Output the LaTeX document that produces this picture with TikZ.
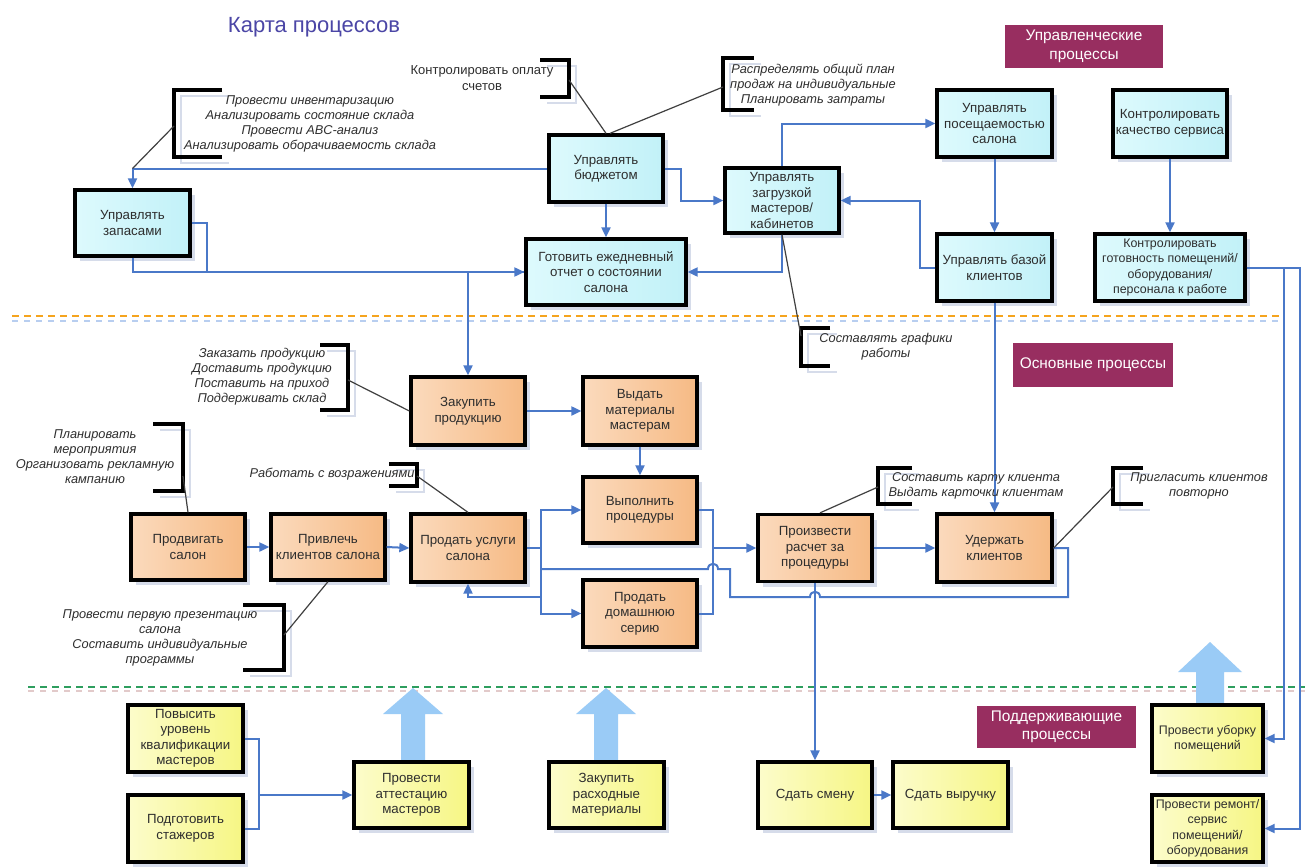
\documentclass[tikz,border=0pt]{standalone}
\usepackage{fontspec}
\setmainfont{Liberation Sans}
\usetikzlibrary{arrows.meta,shadows,calc}
\definecolor{lineblue}{HTML}{4A78C8}
\definecolor{cyanL}{HTML}{DDFAFD}
\definecolor{cyanD}{HTML}{C2F1F8}
\definecolor{orL}{HTML}{FBDABD}
\definecolor{orD}{HTML}{F6BA84}
\definecolor{yeL}{HTML}{FCFCCB}
\definecolor{yeD}{HTML}{F6F684}
\definecolor{shadowc}{HTML}{D6DCEA}
\definecolor{textc}{HTML}{2E2E2E}
\definecolor{tagc}{HTML}{982E60}
\definecolor{arrowc}{HTML}{9ACBF6}
\definecolor{titlec}{HTML}{4B46A6}
\definecolor{leadc}{HTML}{404040}
\definecolor{dashorange}{HTML}{F5A41E}
\definecolor{dashblue}{HTML}{B8CEF0}
\definecolor{dashgreen}{HTML}{2E9E5E}
\definecolor{dashpink}{HTML}{E2CACA}
\newcommand\boxfont{\fontsize{13.3}{15.5}\selectfont}
\newcommand\smallboxfont{\fontsize{12.4}{15.5}\selectfont}
\newcommand\annfont{\fontsize{12.8}{15}\selectfont\itshape}
\newcommand\tagfont{\fontsize{15.4}{18.5}\selectfont}
\begin{document}
\begin{tikzpicture}[x=1pt,y=-1pt,
  conn/.style={draw=lineblue, line width=2pt, -{Triangle[length=10pt,width=9pt]}},
  wire/.style={draw=lineblue, line width=2pt},
  pbox/.style={draw=black, line width=3.3pt, inner sep=1pt, align=center, font=\boxfont, text=textc,
    minimum width=114pt, minimum height=66pt,
    drop shadow={shadow xshift=5pt, shadow yshift=-5pt, fill=shadowc, opacity=1}},
  cbox/.style={pbox, left color=cyanL, right color=cyanD},
  obox/.style={pbox, left color=orL, right color=orD},
  ybox/.style={pbox, left color=yeL, right color=yeD},
  ann/.style={font=\annfont, align=center, text=textc, inner sep=0pt},
  brk/.style={line width=3.4pt, black},
  brkshadow/.style={line width=1.6pt, shadowc},
  lead/.style={draw=leadc, line width=1.2pt},
  tag/.style={fill=tagc, text=white, font=\tagfont, align=center, inner sep=0pt},
  bigarrow/.style={fill=arrowc, draw=none}
]
\useasboundingbox (0,0) rectangle (1313,867);
\fill[white] (0,0) rectangle (1313,867);

% title
\node[font=\fontsize{22}{25}\selectfont, text=titlec] (title) at (314,27) {Карта процессов};

% separators
\draw[dash pattern=on 6pt off 6pt, line width=1.5pt, dashblue] (12,321) -- (1283,321);
\draw[dash pattern=on 7pt off 5pt, line width=2.6pt, dashorange] (12,316) -- (1283,316);
\draw[dash pattern=on 6pt off 6pt, line width=1.5pt, dashpink] (28,691) -- (1305,691);
\draw[dash pattern=on 7pt off 5pt, line width=2.6pt, dashgreen] (28,687) -- (1305,687);

% big arrows
\fill[bigarrow] (413,688) -- (443,714) -- (425,714) -- (425,762) -- (401,762) -- (401,714) -- (383,714) -- cycle;
\fill[bigarrow] (606,688) -- (636,714) -- (618,714) -- (618,762) -- (594,762) -- (594,714) -- (576,714) -- cycle;
\fill[bigarrow] (1210,642) -- (1242,672) -- (1224,672) -- (1224,705) -- (1196,705) -- (1196,672) -- (1178,672) -- cycle;

% tags
\node[tag, minimum width=158pt, minimum height=43pt] (tagU) at (1084,46.5) {Управленческие\\процессы};
\node[tag, minimum width=160pt, minimum height=44pt] (tagO) at (1093,365) {Основные процессы};
\node[tag, minimum width=159pt, minimum height=42pt] (tagP) at (1056.5,727) {Поддерживающие\\процессы};

% management boxes
\node[cbox, minimum width=115pt] (zap) at (132.5,223) {Управлять\\запасами};
\node[cbox, minimum height=67pt] (bud) at (606,168.5) {Управлять\\бюджетом};
\node[cbox, minimum width=160pt] (otch) at (606,272) {Готовить ежедневный\\отчет о состоянии\\салона};
\node[cbox, minimum height=65pt] (zag) at (782,200.5) {Управлять\\загрузкой\\мастеров/\\кабинетов};
\node[cbox, minimum width=115pt, minimum height=67pt] (pos) at (994.5,123.5) {Управлять\\посещаемостью\\салона};
\node[cbox, minimum height=67pt] (kach) at (1170,123.5) {Контролировать\\качество сервиса};
\node[cbox, minimum width=115pt, minimum height=67pt] (baz) at (994.5,267.5) {Управлять базой\\клиентов};
\node[cbox, minimum width=150pt, minimum height=67pt, font=\smallboxfont] (got) at (1170,267.5) {Контролировать\\готовность помещений/\\оборудования/\\персонала к работе};

% main boxes
\node[obox, minimum height=68pt] (zak) at (468,411) {Закупить\\продукцию};
\node[obox, minimum height=68pt] (vyd) at (640,411) {Выдать\\материалы\\мастерам};
\node[obox] (vyp) at (640,510) {Выполнить\\процедуры};
\node[obox, minimum height=68pt] (prod) at (468,548) {Продать услуги\\салона};
\node[obox, minimum height=67pt] (dom) at (640,613.5) {Продать\\домашнюю\\серию};
\node[obox, minimum height=67pt] (ras) at (815,548) {Произвести\\расчет за\\процедуры};
\node[obox, minimum width=115pt, minimum height=68pt] (ud) at (994.5,548) {Удержать\\клиентов};
\node[obox] (prodv) at (188,547) {Продвигать\\салон};
\node[obox] (priv) at (328,547) {Привлечь\\клиентов салона};

% support boxes
\node[ybox, minimum width=115pt, minimum height=67pt] (pov) at (185.5,738.5) {Повысить\\уровень\\квалификации\\мастеров};
\node[ybox, minimum width=115pt, minimum height=67pt] (podg) at (185.5,828.5) {Подготовить\\стажеров};
\node[ybox, minimum width=115pt] (att) at (411.5,795) {Провести\\аттестацию\\мастеров};
\node[ybox, minimum width=115pt] (rash) at (606.5,795) {Закупить\\расходные\\материалы};
\node[ybox] (sm) at (815,795) {Сдать смену};
\node[ybox, minimum width=115pt] (vyr) at (950.5,795) {Сдать выручку};
\node[ybox, minimum width=111pt, minimum height=67pt, font=\smallboxfont] (ub) at (1207.5,738.5) {Провести уборку\\помещений};
\node[ybox, minimum width=111pt, minimum height=67pt, font=\smallboxfont] (rem) at (1207.5,828.5) {Провести ремонт/\\сервис\\помещений/\\оборудования};

% connectors: management
\draw[conn] (bud.west) -| (zap.north);
\draw[wire] (zap.east) -- ++(15,0) |- (otch.west);
\draw[conn] (zap.south) |- (otch.west);
\draw[conn] (otch.west -| zak.north) -- (zak.north);
\draw[conn] (bud.south) -- (otch.north);
\draw[conn] (bud.east) -- ++(16,0) |- (zag.west);
\draw[conn] (zag.south) |- (otch.east);
\draw[conn] (zag.north) |- (pos.west);
\draw[conn] (pos.south) -- (baz.north);
\draw[conn] (baz.west) -- ++(-15,0) |- (zag.east);
\draw[conn] (kach.south) -- (got.north);
\draw[conn] (baz.south) -- (ud.north);
\draw[conn] (got.east) -- ++(37,0) |- (ub.east);
\draw[conn] (got.east) -- ++(53,0) |- (rem.east);

% connectors: main
\draw[conn] (zak.east) -- (vyd.west);
\draw[conn] (vyd.south) -- (vyp.north);
\draw[conn] (prodv.east) -- (priv.west);
\draw[conn] (priv.east) -- (prod.west);
\coordinate (j1) at (541,548);
\coordinate (j2) at (541,597);
\draw[wire] (prod.east) -- (j1);
\draw[conn] (j1) |- (vyp.west);
\draw[conn] (j1) |- (dom.west);
\draw[conn] (j2) -| (prod.south);
\coordinate (m1) at (713,548);
\draw[wire] (vyp.east) -| (m1);
\draw[wire] (dom.east) -| (m1);
\draw[conn] (m1) -- (ras.west);
\draw[conn] (ras.east) -- (ud.west);
\draw[conn] (ras.south) -- (sm.north);
\coordinate (fb1) at (1068,548);
\coordinate (fb2) at (1068,597);
\coordinate (fb3) at (730,597);
\coordinate (fb4) at (730,569);
\coordinate (fb5) at (541,569);
\draw[wire] (ud.east) -- (fb1) -- (fb2) -- (820,597) .. controls (820,590) and (810,590) .. (810,597) -- (fb3) -- (fb4) -- (718,569) .. controls (718,562) and (708,562) .. (708,569) -- (fb5);

% connectors: support
\coordinate (b1) at (259,795);
\draw[wire] (pov.east) -| (b1);
\draw[wire] (podg.east) -| (b1);
\draw[conn] (b1) -- (att.west);
\draw[conn] (sm.east) -- (vyr.west);

% bracket shadows
\draw[brkshadow] (229,96) -| (181,163) -- (229,163);
\draw[brkshadow] (547,66) -| (576,103) -- (547,103);
\draw[brkshadow] (761,64) -| (730,116) -- (761,116);
\draw[brkshadow] (837,334) -| (808,372) -- (837,372);
\draw[brkshadow] (327,351) -| (355,416) -- (327,416);
\draw[brkshadow] (160,430) -| (190,497) -- (160,497);
\draw[brkshadow] (396,470) -| (424,492) -- (396,492);
\draw[brkshadow] (250,611) -| (291,676) -- (250,676);
\draw[brkshadow] (919,474) -| (885,510) -- (919,510);
\draw[brkshadow] (1150,474) -| (1120,510) -- (1150,510);

% brackets
\draw[brk] (222,90) -| (174,157) -- (222,157);
\draw[brk] (540,60) -| (569,97) -- (540,97);
\draw[brk] (754,58) -| (723,110) -- (754,110);
\draw[brk] (830,328) -| (801,366) -- (830,366);
\draw[brk] (320,345) -| (348,410) -- (320,410);
\draw[brk] (153,424) -| (183,491) -- (153,491);
\draw[brk] (389,464) -| (417,486) -- (389,486);
\draw[brk] (243,605) -| (284,670) -- (243,670);
\draw[brk] (912,468) -| (878,504) -- (912,504);
\draw[brk] (1143,468) -| (1113,504) -- (1143,504);

% annotation attach points
\coordinate (aA) at (174,126);
\coordinate (aB) at (569,80);
\coordinate (aC) at (723,87);
\coordinate (aD) at (801,336);
\coordinate (aE) at (348,380);
\coordinate (aF) at (183,476);
\coordinate (aG) at (417,476);
\coordinate (aH) at (284,635);
\coordinate (aI) at (878,487);
\coordinate (aJ) at (1113,487);

% leads
\draw[lead] (aA) -- (bud.west -| zap.north);
\draw[lead] (aB) -- (bud.north);
\draw[lead] (aC) -- ($(bud.north)+(4,0)$);
\draw[lead] (zag.south) -- (aD);
\draw[lead] (aE) -- (zak.west);
\draw[lead] (aF) -- (prodv.north);
\draw[lead] (aG) -- (prod.north);
\draw[lead] (aH) -- (priv.south);
\draw[lead] (aI) -- ($(ras.north)+(5,0)$);
\draw[lead] (aJ) -- (ud.east);

% annotation texts
\node[ann] (tA) at (310,123.5) {Провести инвентаризацию\\Анализировать состояние склада\\Провести ABC-анализ\\Анализировать оборачиваемость склада};
\node[ann, font=\fontsize{13}{15.5}\selectfont] (tB) at (482,78) {Контролировать оплату\\счетов};
\node[ann] (tC) at (813,85) {Распределять общий план\\продаж на индивидуальные\\Планировать затраты};
\node[ann] (tD) at (886,347) {Составлять графики\\работы};
\node[ann] (tE) at (262,376.5) {Заказать продукцию\\Доставить продукцию\\Поставить на приход\\Поддерживать склад};
\node[ann] (tF) at (95,456.5) {Планировать\\мероприятия\\Организовать рекламную\\кампанию};
\node[ann] (tG) at (332,474) {Работать с возражениями};
\node[ann] (tH) at (160,638) {Провести первую презентацию\\салона\\Составить индивидуальные\\программы};
\node[ann] (tI) at (976,485.5) {Составить карту клиента\\Выдать карточки клиентам};
\node[ann] (tJ) at (1199,485.5) {Пригласить клиентов\\повторно};
\end{tikzpicture}
\end{document}
